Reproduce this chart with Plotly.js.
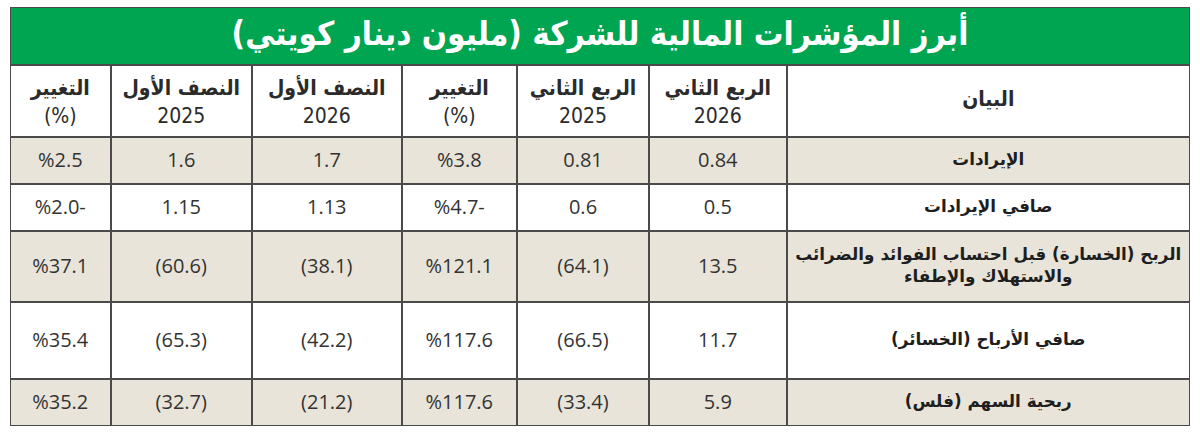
<!DOCTYPE html>
<html><head><meta charset="utf-8">
<script src="https://cdn.plot.ly/plotly-3.0.1.min.js"></script>
<style>html,body{margin:0;padding:0;background:#fff}#chart{width:1200px;height:443px}</style>
</head><body><div id="chart"></div>
<script>
// ---- data ----
const titleText = "أبرز المؤشرات المالية للشركة (مليون دينار كويتي)";
const headerNames = ["التغيير", "النصف الأول", "النصف الأول", "التغيير", "الربع الثاني", "الربع الثاني", "البيان"];
const headerSubs = ["(%)", "2025", "2026", "(%)", "2025", "2026", ""];
const labels = ["الإيرادات", "صافي الإيرادات", "الربح (الخسارة) قبل احتساب الفوائد والضرائب<br>والاستهلاك والإطفاء", "صافي الأرباح (الخسائر)", "ربحية السهم (فلس)"];
const q2_2026 = ["0.84", "0.5", "13.5", "11.7", "5.9"];
const q2_2025 = ["0.81", "0.6", "(64.1)", "(66.5)", "(33.4)"];
const q2_change = ["%3.8", "%4.7-", "%121.1", "%117.6", "%117.6"];
const h1_2026 = ["1.7", "1.13", "(38.1)", "(42.2)", "(21.2)"];
const h1_2025 = ["1.6", "1.15", "(60.6)", "(65.3)", "(32.7)"];
const h1_change = ["%2.5", "%2.0-", "%37.1", "%35.4", "%35.2"];

// ---- layout geometry (pixel-like axis units) ----
const colEdges = [10, 110.5, 252, 401.5, 517, 649, 786.5, 1190];
const rowEdges = [65, 137, 184, 231, 302, 379, 426];
const titleEdges = [7, 65];

const columns = [h1_change, h1_2025, h1_2026, q2_change, q2_2025, q2_2026, labels];
const nCols = columns.length, nRows = labels.length;
const xMin = colEdges[0], xMax = colEdges[colEdges.length - 1];
const yMin = titleEdges[0], yMax = rowEdges[rowEdges.length - 1];
const mid = (a, i) => (a[i] + a[i + 1]) / 2;

// backgrounds: header white, body rows alternating beige/white
const z = [];
for (let r = 0; r < nRows + 1; r++) {
  const row = [];
  for (let c = 0; c < nCols; c++) row.push(r === 0 ? 0 : (r % 2 === 1 ? 1 : 0));
  z.push(row);
}

const traces = [];
traces.push({
  type: 'heatmap', x: colEdges, y: rowEdges, z: z, zmin: 0, zmax: 1,
  colorscale: [[0, '#ffffff'], [1, '#e8e4d9']], showscale: false,
  xgap: 2, ygap: 2, hoverinfo: 'skip'
});
traces.push({
  type: 'heatmap', x: [xMin, xMax], y: titleEdges, z: [[1]],
  zmin: 0, zmax: 1, colorscale: [[0, '#00a551'], [1, '#00a551']], showscale: false,
  xgap: 2, ygap: 2, hoverinfo: 'skip'
});

// header text: names (bold) and sub-lines (regular)
const hMid = mid(rowEdges, 0);
traces.push({
  type: 'scatter', mode: 'text', hoverinfo: 'skip',
  x: headerNames.map((_, c) => mid(colEdges, c)),
  y: headerNames.map((_, c) => headerSubs[c] ? hMid - 11 : hMid),
  text: headerNames,
  textfont: {family: 'DejaVu Sans Condensed', size: 21, color: '#2b2b2b', weight: 'bold'}
});
traces.push({
  type: 'scatter', mode: 'text', hoverinfo: 'skip',
  x: headerSubs.map((_, c) => mid(colEdges, c)),
  y: headerSubs.map(() => hMid + 17),
  text: headerSubs,
  textfont: {family: 'DejaVu Sans Condensed', size: 21, color: '#2b2b2b'}
});

// numeric cells
const nx = [], ny = [], nt = [];
for (let c = 0; c < nCols - 1; c++) {
  for (let r = 0; r < nRows; r++) {
    nx.push(mid(colEdges, c)); ny.push(mid(rowEdges, r + 1) + 1); nt.push(columns[c][r]);
  }
}
traces.push({
  type: 'scatter', mode: 'text', hoverinfo: 'skip', x: nx, y: ny, text: nt,
  textfont: {family: 'Open Sans', size: 20, color: '#333333'}
});

// row labels
traces.push({
  type: 'scatter', mode: 'text', hoverinfo: 'skip',
  x: labels.map(() => mid(colEdges, nCols - 1)),
  y: labels.map((_, r) => mid(rowEdges, r + 1)),
  text: labels,
  textfont: {family: 'DejaVu Sans', size: 16.8, color: '#1e1e1e', weight: 'bold'}
});

// title text
traces.push({
  type: 'scatter', mode: 'text', hoverinfo: 'skip',
  x: [(xMin + xMax) / 2], y: [mid(titleEdges, 0) + 1],
  text: [titleText],
  textfont: {family: 'DejaVu Sans Condensed', size: 33, color: '#ffffff', weight: 'bold'}
});

const layout = {
  width: 1200, height: 443,
  margin: {l: 10, r: 10, t: 7, b: 17, pad: 0},
  paper_bgcolor: '#ffffff', plot_bgcolor: '#4a4a4a',
  showlegend: false,
  xaxis: {range: [xMin, xMax], visible: false, fixedrange: true},
  yaxis: {range: [yMax, yMin], visible: false, fixedrange: true},
  shapes: [{type: 'rect', xref: 'x', yref: 'y', x0: xMin, x1: xMax,
    y0: yMin, y1: yMax, line: {color: '#4a4a4a', width: 2}}]
};
Plotly.newPlot('chart', traces, layout, {displayModeBar: false, staticPlot: true});
</script></body></html>
